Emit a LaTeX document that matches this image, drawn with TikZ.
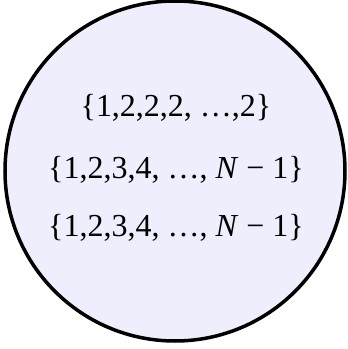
\documentclass[tikz,border=0pt]{standalone}
\usepackage{fontspec}
\setmainfont{Liberation Serif}
\definecolor{lav}{RGB}{238,238,252}
\begin{document}
\begin{tikzpicture}[x=1pt,y=1pt,
  settext/.style={anchor=base,inner sep=0pt,font=\fontsize{32}{36}\selectfont}]
\useasboundingbox (0,0) rectangle (348,349);
\node[circle,draw=black,line width=3.5pt,fill=lav,minimum size=340pt,inner sep=0pt] (c) at (175,178) {};
\node[settext] (l1) at (176,232) {\{1,2,2,2, …,2\}};
\node[settext] (l2) at (176,170) {\{1,2,3,4, …, \textit{N} − 1\}};
\node[settext] (l3) at (176,112) {\{1,2,3,4, …, \textit{N} − 1\}};
\end{tikzpicture}
\end{document}
